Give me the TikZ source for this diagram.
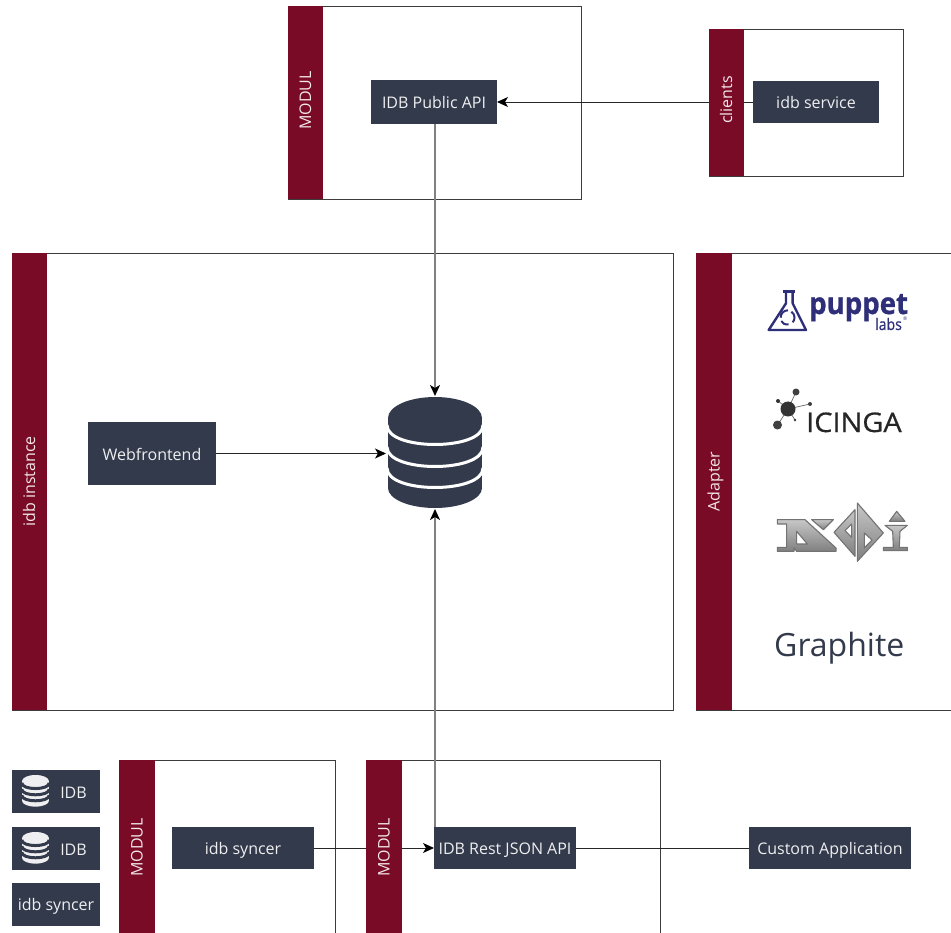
\documentclass[tikz,border=0pt]{standalone}
\usepackage{fontspec}
\setmainfont{Open Sans}
\newfontfamily\logofont[FakeBold=0.6]{Open Sans}
\newfontfamily\pupfont[FakeBold=1.0]{Open Sans Bold}
\usetikzlibrary{arrows.meta}
\definecolor{barc}{HTML}{7A0B27}
\definecolor{boxc}{HTML}{323A4B}
\definecolor{framec}{HTML}{3C3C3C}
\definecolor{linegray}{HTML}{808080}
\definecolor{ppt}{HTML}{2E2F78}
\newcommand{\dbstack}[6]{% cx, top, scale, body colour, gap colour, gap width
  \begin{scope}[shift={(#1,#2)},scale=#3]
    \fill[#4] (0,21) ellipse [x radius=47,y radius=21];
    \fill[#4] (-47,21) rectangle (47,91);
    \fill[#4] (0,91) ellipse [x radius=47,y radius=20];
    \foreach \gy in {28,50,71}
      \draw[#5,line width=#6] (-48,\gy) .. controls (-48,\gy+26) and (48,\gy+26) .. (48,\gy);
  \end{scope}}
\tikzset{
  frame/.style={draw=framec,line width=0.9pt,inner sep=0pt,outer sep=0pt},
  lbl/.style={font=\fontsize{16}{18}\selectfont,text height=13pt,text depth=0pt},
  dbox/.style={fill=boxc,text=white!92!boxc,lbl,inner sep=0pt,outer sep=0pt},
  bar/.style={fill=barc,text=white!90!barc,font=\fontsize{16}{18}\selectfont,text height=11pt,text depth=0pt,rotate=90,inner sep=0pt,outer sep=0pt},
  link/.style={draw=black!85,line width=0.9pt},
  glink/.style={draw=linegray,line width=1.6pt},
  tip/.style={-{Stealth[length=11pt,width=10pt,inset=3pt,black]}},
  ndi/.style={draw=black!55,line width=1.1pt,line join=round,top color=black!22,bottom color=black!50},
  flask/.style={draw=ppt,line width=2.4pt,line join=round},
}
\begin{document}
\begin{tikzpicture}[x=1pt,y=-1pt]
\useasboundingbox (0,0) rectangle (951,933);
\fill[white] (0,0) rectangle (951,933);
% frames
\node[frame,minimum width=293,minimum height=193] (fmodtop) at (434.5,102.5) {};
\node[frame,minimum width=194,minimum height=147] (fclients) at (806,102.5) {};
\node[frame,minimum width=661,minimum height=457] (finst) at (342.5,481.5) {};
\node[frame,minimum width=258,minimum height=457] (fadapt) at (825,481.5) {};
\node[frame,minimum width=216,minimum height=175] (fmodl) at (227,847.5) {};
\node[frame,minimum width=294,minimum height=175] (fmodr) at (513,847.5) {};
% boxes
\node[dbox,minimum width=126,minimum height=44] (pub) at (434,102) {IDB Public API};
\node[dbox,minimum width=126,minimum height=42] (svc) at (816,102) {idb service};
\node[dbox,minimum width=128,minimum height=63] (web) at (152,453.5) {Webfrontend};
\node[dbox,minimum width=142,minimum height=42] (sync) at (243,848) {idb syncer};
\node[dbox,minimum width=142,minimum height=42] (api) at (505,848) {IDB Rest JSON API};
\node[dbox,minimum width=162,minimum height=42] (custom) at (830,848) {Custom Application};
\node[inner sep=0pt,outer sep=0pt,minimum width=98,minimum height=113] (db) at (435,452.5) {};
% connectors
\draw[link,tip] (svc.west) -- (pub.east);
\draw[link,tip] (web.east) -- (db.west |- web.east);
\draw[link,tip] (sync.east) -- (api.west);
\draw[link] (api.east) -- (custom.west);
\draw[glink,tip] (db.north |- pub.south) -- (db.north);
\draw[glink,tip] (db.south |- api.north) -- (db.south);
% bars
\node[bar,minimum width=193,minimum height=35] (bmodtop) at (305.5,102.5) {\hspace*{4pt}MODUL};
\node[bar,minimum width=147,minimum height=35] (bclients) at (726.5,102.5) {\hspace*{5pt}clients};
\node[bar,minimum width=457,minimum height=35] (binst) at (29.5,481.5) {idb instance};
\node[bar,minimum width=457,minimum height=36] (badapt) at (714,481.5) {Adapter};
\node[bar,minimum width=175,minimum height=36] (bmodl) at (137,847.5) {MODUL};
\node[bar,minimum width=175,minimum height=36] (bmodr) at (384,847.5) {MODUL};
% database
\dbstack{435}{397}{1}{boxc}{white}{3pt}
% left small boxes
\node[dbox,minimum width=88,minimum height=43] (s1) at (56,791) {};
\node[dbox,minimum width=88,minimum height=43] (s2) at (56,848) {};
\node[dbox,minimum width=88,minimum height=43] (s3) at (56,904) {idb syncer};
\dbstack{35.5}{775}{0.285}{white!92!boxc}{boxc}{3pt}
\dbstack{35.5}{832}{0.285}{white!92!boxc}{boxc}{3pt}
\node[text=white!92!boxc,lbl,inner sep=0pt] (t1) at (73.5,791.5) {IDB};
\node[text=white!92!boxc,lbl,inner sep=0pt] (t2) at (73.5,848.5) {IDB};
% puppet logo
\begin{scope}[shift={(762,285)},scale=1/3]
  \draw[flask] (62,20) -- (100,20);
  \draw[flask] (72,20) -- (72,55) -- (20,135) -- (132,135) -- (92,55) -- (92,20);
  \draw[ppt,line width=2pt] (56,98) .. controls (56,84) and (66,76) .. (78,76);
  \draw[ppt,line width=2pt] (88,80) .. controls (100,88) and (100,104) .. (92,112);
  \draw[ppt,line width=2pt] (80,118) .. controls (68,120) and (60,114) .. (58,108);
\end{scope}
\node[text=ppt,font=\fontsize{30}{30}\selectfont\pupfont,anchor=base west,inner sep=0pt,xscale=0.92,text depth=0pt] (tpuppet) at (809,314) {puppet};
\node[text=ppt,font=\fontsize{16}{16}\selectfont\logofont,anchor=base west,inner sep=0pt,xscale=0.88] (tlabs) at (875,330) {labs};
\node[text=ppt,font=\fontsize{5}{6}\selectfont,anchor=base west,inner sep=0pt] (treg) at (903,321) {®};
% icinga logo
\begin{scope}
  \draw[black!60,line width=0.7pt] (788,409) -- (796,392);
  \draw[black!60,line width=0.7pt] (788,409) -- (778,401);
  \draw[black!60,line width=0.7pt] (788,409) -- (777.5,425);
  \draw[black!60,line width=0.7pt] (788,409) -- (795,420);
  \draw[black!60,line width=0.7pt] (788,409) -- (810,404);
  \fill[black!80] (788,409) circle (7.5);
  \fill[black!75] (796,392) circle (3.5);
  \fill[black!80] (778,401) circle (2);
  \fill[black!75] (777.5,425) circle (4.5);
  \fill[black!80] (795,420) circle (1.3);
  \fill[black!75] (810,404) circle (2);
\end{scope}
\node[text=black!85,font=\fontsize{27}{28}\selectfont\logofont,anchor=base west,inner sep=0pt,xscale=1.07] (ticinga) at (806,432) {ICINGA};
% ndi logo
\begin{scope}[shift={(770,498)},scale=1/3]
  \draw[ndi,even odd rule] (22,65) -- (105,65) -- (198,150) -- (198,160) -- (80,160) -- (72,150) -- (72,160) -- (22,160) -- (22,148) -- (50,148) -- (50,78) -- (22,78) -- cycle
     (80,100) -- (112,138) -- (80,138) -- cycle;
  \draw[ndi] (125,65) -- (190,65) -- (160,95) -- cycle;
  \draw[ndi,even odd rule] (255,35) -- (255,175) -- (192,103) -- cycle (245,78) -- (245,118) -- (225,98) -- cycle;
  \draw[ndi,even odd rule] (262,15) -- (340,105) -- (262,190) -- cycle (283,105) -- (306,126) -- (283,150) -- cycle;
  \draw[ndi] (380,40) -- (405,70) -- (358,70) -- cycle;
  \draw[ndi] (345,82) -- (412,82) -- (390,100) -- (388,148) -- (412,148) -- (412,158) -- (340,158) -- (340,148) -- (370,148) -- (368,100) -- cycle;
\end{scope}
% graphite
\node[text=boxc,font=\fontsize{32}{32}\selectfont,anchor=base west,inner sep=0pt] (tgraph) at (774,656) {Graphite};
\end{tikzpicture}
\end{document}
